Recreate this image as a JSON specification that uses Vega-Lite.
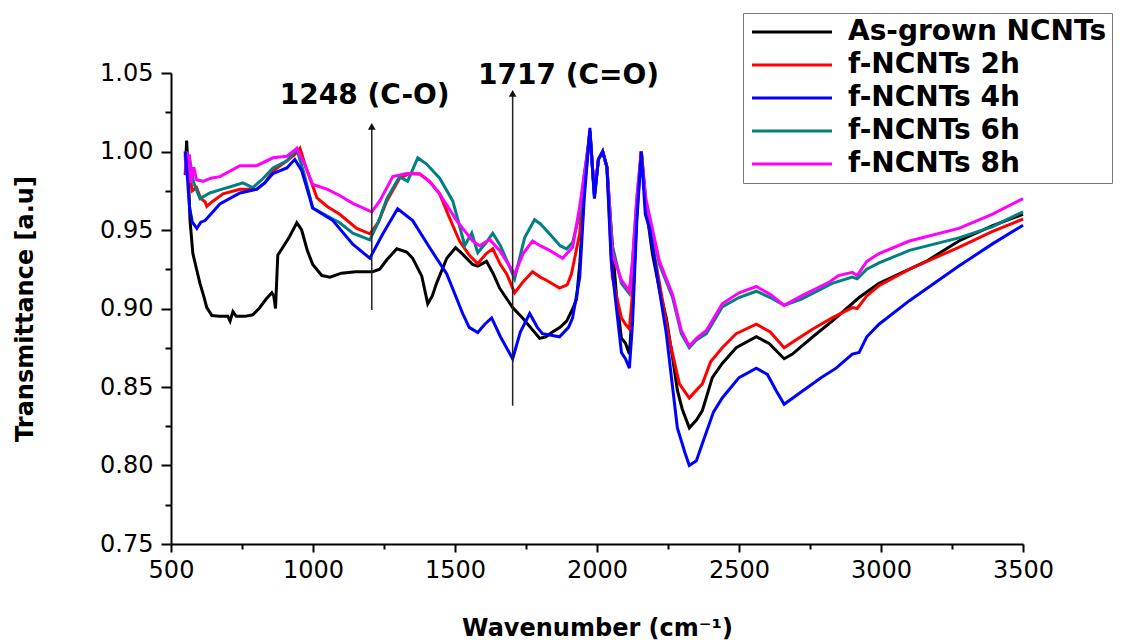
{
  "$schema": "https://vega.github.io/schema/vega-lite/v6.json",
  "width": 852,
  "height": 471,
  "autosize": "none",
  "padding": {"left": 171, "top": 73, "right": 104, "bottom": 96},
  "background": "white",
  "config": {
    "view": {"stroke": null},
    "font": "DejaVu Sans",
    "axis": {"grid": false, "domainColor": "black", "domainWidth": 2, "tickColor": "black", "tickWidth": 2, "labelColor": "black", "titleColor": "black", "labelFont": "DejaVu Sans", "titleFont": "DejaVu Sans", "labelFontSize": 24, "titleFontSize": 24, "titleFontWeight": "bold", "labelOverlap": false, "labelFlush": false}
  },
  "datasets": {
    "asgrown": [
      {"x":550,"y":0.985},{"x":555,"y":1.007},{"x":560,"y":0.99},{"x":567,"y":0.956},{"x":577,"y":0.935},{"x":590,"y":0.925},{"x":602,"y":0.916},{"x":615,"y":0.908},{"x":626,"y":0.9006},{"x":644,"y":0.8955},{"x":670,"y":0.895},{"x":700,"y":0.895},{"x":708,"y":0.892},{"x":718,"y":0.898},{"x":730,"y":0.895},{"x":760,"y":0.895},{"x":788,"y":0.896},{"x":810,"y":0.9},{"x":835,"y":0.906},{"x":855,"y":0.91},{"x":862,"y":0.908},{"x":868,"y":0.9},{"x":876,"y":0.934},{"x":894,"y":0.939},{"x":915,"y":0.945},{"x":943,"y":0.9546},{"x":960,"y":0.95},{"x":980,"y":0.937},{"x":999,"y":0.928},{"x":1031,"y":0.921},{"x":1060,"y":0.92},{"x":1100,"y":0.9225},{"x":1150,"y":0.9234},{"x":1210,"y":0.9234},{"x":1235,"y":0.925},{"x":1260,"y":0.931},{"x":1295,"y":0.938},{"x":1330,"y":0.936},{"x":1351,"y":0.932},{"x":1383,"y":0.9206},{"x":1404,"y":0.903},{"x":1420,"y":0.908},{"x":1435,"y":0.916},{"x":1471,"y":0.932},{"x":1502,"y":0.9387},{"x":1530,"y":0.934},{"x":1562,"y":0.928},{"x":1580,"y":0.927},{"x":1611,"y":0.93},{"x":1635,"y":0.922},{"x":1657,"y":0.913},{"x":1703,"y":0.9006},{"x":1738,"y":0.894},{"x":1770,"y":0.887},{"x":1798,"y":0.881},{"x":1820,"y":0.882},{"x":1843,"y":0.885},{"x":1870,"y":0.888},{"x":1893,"y":0.892},{"x":1915,"y":0.9},{"x":1928,"y":0.906},{"x":1940,"y":0.93},{"x":1955,"y":0.975},{"x":1975,"y":1.013},{"x":1991,"y":0.972},{"x":2005,"y":0.995},{"x":2020,"y":1.0},{"x":2035,"y":0.99},{"x":2050,"y":0.95},{"x":2070,"y":0.905},{"x":2086,"y":0.881},{"x":2100,"y":0.878},{"x":2114,"y":0.871},{"x":2125,"y":0.9},{"x":2140,"y":0.96},{"x":2156,"y":1.0},{"x":2170,"y":0.968},{"x":2195,"y":0.935},{"x":2220,"y":0.912},{"x":2244,"y":0.894},{"x":2265,"y":0.87},{"x":2283,"y":0.848},{"x":2300,"y":0.836},{"x":2325,"y":0.824},{"x":2350,"y":0.829},{"x":2371,"y":0.835},{"x":2406,"y":0.856},{"x":2441,"y":0.865},{"x":2490,"y":0.875},{"x":2561,"y":0.882},{"x":2606,"y":0.8777},{"x":2659,"y":0.868},{"x":2688,"y":0.871},{"x":2760,"y":0.882},{"x":2828,"y":0.892},{"x":2923,"y":0.907},{"x":2993,"y":0.916},{"x":3159,"y":0.93},{"x":3274,"y":0.943},{"x":3391,"y":0.9526},{"x":3500,"y":0.96}
    ],
    "h2": [
      {"x":550,"y":0.998},{"x":556,"y":0.99},{"x":565,"y":0.985},{"x":575,"y":0.975},{"x":590,"y":0.977},{"x":605,"y":0.97},{"x":620,"y":0.968},{"x":626,"y":0.965},{"x":645,"y":0.968},{"x":683,"y":0.973},{"x":743,"y":0.976},{"x":802,"y":0.976},{"x":830,"y":0.98},{"x":859,"y":0.9876},{"x":908,"y":0.994},{"x":935,"y":0.998},{"x":954,"y":1.002},{"x":975,"y":0.99},{"x":1014,"y":0.9705},{"x":1050,"y":0.965},{"x":1094,"y":0.96},{"x":1154,"y":0.951},{"x":1200,"y":0.9476},{"x":1230,"y":0.955},{"x":1260,"y":0.9685},{"x":1305,"y":0.983},{"x":1340,"y":0.986},{"x":1376,"y":0.9857},{"x":1410,"y":0.981},{"x":1446,"y":0.973},{"x":1480,"y":0.958},{"x":1516,"y":0.943},{"x":1550,"y":0.934},{"x":1580,"y":0.9285},{"x":1610,"y":0.935},{"x":1633,"y":0.938},{"x":1660,"y":0.928},{"x":1682,"y":0.922},{"x":1710,"y":0.91},{"x":1740,"y":0.917},{"x":1773,"y":0.9234},{"x":1800,"y":0.92},{"x":1822,"y":0.918},{"x":1868,"y":0.913},{"x":1895,"y":0.915},{"x":1910,"y":0.922},{"x":1939,"y":0.9476},{"x":1955,"y":0.98},{"x":1975,"y":1.013},{"x":1991,"y":0.972},{"x":2005,"y":0.995},{"x":2020,"y":1.0},{"x":2035,"y":0.99},{"x":2054,"y":0.92},{"x":2086,"y":0.894},{"x":2100,"y":0.89},{"x":2114,"y":0.887},{"x":2125,"y":0.91},{"x":2140,"y":0.96},{"x":2156,"y":1.0},{"x":2172,"y":0.965},{"x":2220,"y":0.916},{"x":2255,"y":0.88},{"x":2290,"y":0.852},{"x":2325,"y":0.843},{"x":2350,"y":0.848},{"x":2371,"y":0.852},{"x":2400,"y":0.866},{"x":2441,"y":0.875},{"x":2490,"y":0.884},{"x":2561,"y":0.89},{"x":2610,"y":0.885},{"x":2659,"y":0.875},{"x":2700,"y":0.88},{"x":2760,"y":0.887},{"x":2828,"y":0.894},{"x":2899,"y":0.9006},{"x":2916,"y":0.9},{"x":2950,"y":0.908},{"x":2993,"y":0.9146},{"x":3100,"y":0.925},{"x":3274,"y":0.939},{"x":3391,"y":0.949},{"x":3500,"y":0.957}
    ],
    "h4": [
      {"x":550,"y":1.0},{"x":555,"y":0.99},{"x":565,"y":0.965},{"x":575,"y":0.955},{"x":591,"y":0.951},{"x":605,"y":0.955},{"x":620,"y":0.956},{"x":640,"y":0.96},{"x":672,"y":0.9666},{"x":743,"y":0.9736},{"x":802,"y":0.976},{"x":830,"y":0.98},{"x":859,"y":0.986},{"x":908,"y":0.9895},{"x":936,"y":0.995},{"x":960,"y":0.988},{"x":999,"y":0.964},{"x":1070,"y":0.956},{"x":1140,"y":0.941},{"x":1200,"y":0.932},{"x":1246,"y":0.9476},{"x":1298,"y":0.9635},{"x":1351,"y":0.956},{"x":1411,"y":0.9387},{"x":1471,"y":0.922},{"x":1527,"y":0.8968},{"x":1550,"y":0.888},{"x":1580,"y":0.8847},{"x":1605,"y":0.89},{"x":1629,"y":0.894},{"x":1660,"y":0.882},{"x":1703,"y":0.868},{"x":1730,"y":0.885},{"x":1763,"y":0.8968},{"x":1790,"y":0.888},{"x":1808,"y":0.884},{"x":1868,"y":0.882},{"x":1900,"y":0.888},{"x":1914,"y":0.894},{"x":1939,"y":0.9196},{"x":1955,"y":0.97},{"x":1975,"y":1.015},{"x":1991,"y":0.97},{"x":2005,"y":0.995},{"x":2020,"y":1.0},{"x":2035,"y":0.99},{"x":2050,"y":0.93},{"x":2086,"y":0.872},{"x":2100,"y":0.868},{"x":2114,"y":0.862},{"x":2125,"y":0.89},{"x":2140,"y":0.955},{"x":2156,"y":1.0},{"x":2170,"y":0.96},{"x":2185,"y":0.951},{"x":2244,"y":0.884},{"x":2283,"y":0.824},{"x":2310,"y":0.808},{"x":2325,"y":0.8},{"x":2350,"y":0.803},{"x":2371,"y":0.814},{"x":2410,"y":0.834},{"x":2441,"y":0.843},{"x":2500,"y":0.856},{"x":2561,"y":0.862},{"x":2600,"y":0.858},{"x":2630,"y":0.848},{"x":2659,"y":0.839},{"x":2720,"y":0.847},{"x":2790,"y":0.856},{"x":2842,"y":0.862},{"x":2899,"y":0.871},{"x":2923,"y":0.872},{"x":2950,"y":0.882},{"x":2993,"y":0.89},{"x":3100,"y":0.905},{"x":3274,"y":0.927},{"x":3391,"y":0.941},{"x":3500,"y":0.953}
    ],
    "h6": [
      {"x":550,"y":1.0},{"x":556,"y":0.985},{"x":560,"y":0.998},{"x":567,"y":0.994},{"x":580,"y":0.98},{"x":602,"y":0.97},{"x":637,"y":0.9736},{"x":680,"y":0.976},{"x":718,"y":0.978},{"x":753,"y":0.98},{"x":788,"y":0.977},{"x":820,"y":0.982},{"x":859,"y":0.9895},{"x":908,"y":0.994},{"x":943,"y":1.0016},{"x":970,"y":0.985},{"x":999,"y":0.964},{"x":1049,"y":0.959},{"x":1094,"y":0.9546},{"x":1140,"y":0.948},{"x":1200,"y":0.9437},{"x":1230,"y":0.955},{"x":1260,"y":0.97},{"x":1305,"y":0.984},{"x":1333,"y":0.981},{"x":1369,"y":0.996},{"x":1400,"y":0.992},{"x":1446,"y":0.983},{"x":1492,"y":0.9685},{"x":1520,"y":0.95},{"x":1534,"y":0.94},{"x":1559,"y":0.948},{"x":1580,"y":0.9355},{"x":1610,"y":0.942},{"x":1633,"y":0.948},{"x":1660,"y":0.94},{"x":1710,"y":0.919},{"x":1745,"y":0.945},{"x":1780,"y":0.9565},{"x":1800,"y":0.954},{"x":1833,"y":0.9476},{"x":1870,"y":0.94},{"x":1893,"y":0.938},{"x":1914,"y":0.942},{"x":1939,"y":0.96},{"x":1955,"y":0.985},{"x":1975,"y":1.012},{"x":1991,"y":0.972},{"x":2005,"y":0.995},{"x":2020,"y":1.0},{"x":2035,"y":0.99},{"x":2054,"y":0.94},{"x":2086,"y":0.916},{"x":2114,"y":0.9095},{"x":2125,"y":0.93},{"x":2140,"y":0.97},{"x":2156,"y":1.0},{"x":2172,"y":0.968},{"x":2220,"y":0.928},{"x":2266,"y":0.907},{"x":2297,"y":0.884},{"x":2325,"y":0.875},{"x":2350,"y":0.88},{"x":2385,"y":0.884},{"x":2441,"y":0.901},{"x":2500,"y":0.907},{"x":2561,"y":0.911},{"x":2610,"y":0.907},{"x":2659,"y":0.902},{"x":2720,"y":0.906},{"x":2828,"y":0.916},{"x":2899,"y":0.92},{"x":2916,"y":0.919},{"x":2950,"y":0.925},{"x":2993,"y":0.929},{"x":3100,"y":0.937},{"x":3274,"y":0.945},{"x":3391,"y":0.952},{"x":3500,"y":0.9616}
    ],
    "h8": [
      {"x":550,"y":0.998},{"x":553,"y":0.985},{"x":556,"y":1.0},{"x":560,"y":0.983},{"x":565,"y":0.998},{"x":570,"y":0.98},{"x":580,"y":0.99},{"x":590,"y":0.982},{"x":613,"y":0.981},{"x":640,"y":0.983},{"x":672,"y":0.984},{"x":743,"y":0.991},{"x":802,"y":0.991},{"x":859,"y":0.996},{"x":908,"y":0.997},{"x":943,"y":1.002},{"x":970,"y":0.992},{"x":999,"y":0.979},{"x":1049,"y":0.976},{"x":1094,"y":0.972},{"x":1140,"y":0.967},{"x":1207,"y":0.9616},{"x":1235,"y":0.9685},{"x":1281,"y":0.984},{"x":1330,"y":0.986},{"x":1376,"y":0.9857},{"x":1410,"y":0.981},{"x":1446,"y":0.973},{"x":1506,"y":0.956},{"x":1562,"y":0.943},{"x":1587,"y":0.94},{"x":1622,"y":0.944},{"x":1657,"y":0.937},{"x":1710,"y":0.922},{"x":1740,"y":0.935},{"x":1773,"y":0.943},{"x":1800,"y":0.94},{"x":1833,"y":0.937},{"x":1879,"y":0.932},{"x":1914,"y":0.939},{"x":1939,"y":0.965},{"x":1955,"y":0.985},{"x":1975,"y":1.01},{"x":1991,"y":0.974},{"x":2005,"y":0.995},{"x":2020,"y":1.0},{"x":2035,"y":0.99},{"x":2054,"y":0.935},{"x":2086,"y":0.918},{"x":2114,"y":0.911},{"x":2125,"y":0.93},{"x":2140,"y":0.97},{"x":2156,"y":1.0},{"x":2172,"y":0.97},{"x":2220,"y":0.93},{"x":2266,"y":0.909},{"x":2297,"y":0.886},{"x":2325,"y":0.876},{"x":2350,"y":0.881},{"x":2385,"y":0.886},{"x":2441,"y":0.903},{"x":2500,"y":0.91},{"x":2561,"y":0.914},{"x":2610,"y":0.909},{"x":2659,"y":0.902},{"x":2720,"y":0.908},{"x":2820,"y":0.917},{"x":2850,"y":0.921},{"x":2899,"y":0.923},{"x":2916,"y":0.921},{"x":2950,"y":0.93},{"x":2993,"y":0.935},{"x":3100,"y":0.943},{"x":3274,"y":0.951},{"x":3391,"y":0.96},{"x":3500,"y":0.97}
    ],
    "labels": [
      {"x":1182,"y":1.030,"label":"1248 (C-O)"},
      {"x":1900,"y":1.0428,"label":"1717 (C=O)"}
    ],
    "arrows": [
      {"x":1207,"y":0.899,"y2":1.016},
      {"x":1703,"y":0.838,"y2":1.037}
    ]
  },
  "encoding": {
    "x": {"field": "x", "type": "quantitative", "scale": {"domain": [500, 3500], "nice": false, "zero": false},
      "axis": {"title": "Wavenumber (cm⁻¹)", "values": [500,750,1000,1250,1500,1750,2000,2250,2500,2750,3000,3250,3500], "format": "d",
        "labelExpr": "datum.value % 500 === 0 ? datum.label : ''",
        "tickSize": {"condition": {"test": "datum.value % 500 === 0", "value": 8}, "value": 5},
        "labelPadding": 6, "titlePadding": 34}},
    "y": {"field": "y", "type": "quantitative", "scale": {"domain": [0.75, 1.05], "nice": false, "zero": false},
      "axis": {"title": "Transmittance [a.u]", "values": [0.75,0.775,0.8,0.825,0.85,0.875,0.9,0.925,0.95,0.975,1.0,1.025,1.05],
        "labelExpr": "abs(datum.value*20 - round(datum.value*20)) < 0.001 ? format(datum.value, '.2f') : ''",
        "tickSize": {"condition": {"test": "abs(datum.value*20 - round(datum.value*20)) < 0.001", "value": 10}, "value": 6},
        "labelPadding": 8, "titlePadding": 62}}
  },
  "layer": [
    {"data": {"name": "asgrown"}, "mark": {"type": "line", "strokeWidth": 3}, "encoding": {"color": {"datum": "As-grown NCNTs"}}},
    {"data": {"name": "h2"}, "mark": {"type": "line", "strokeWidth": 3}, "encoding": {"color": {"datum": "f-NCNTs 2h"}}},
    {"data": {"name": "h6"}, "mark": {"type": "line", "strokeWidth": 3}, "encoding": {"color": {"datum": "f-NCNTs 6h"}}},
    {"data": {"name": "h8"}, "mark": {"type": "line", "strokeWidth": 3}, "encoding": {"color": {"datum": "f-NCNTs 8h"}}},
    {"data": {"name": "h4"}, "mark": {"type": "line", "strokeWidth": 3},
      "encoding": {"color": {"datum": "f-NCNTs 4h", "type": "nominal",
        "scale": {"domain": ["As-grown NCNTs","f-NCNTs 2h","f-NCNTs 4h","f-NCNTs 6h","f-NCNTs 8h"], "range": ["#000000","#ff0000","#0000ff","#008080","#ff00ff"]},
        "legend": {"title": null, "orient": "none", "legendX": 572, "legendY": -60, "symbolType": "M-1,0H7", "symbolSize": 400, "symbolStrokeWidth": 3,
          "labelFont": "DejaVu Sans", "labelFontWeight": "bold", "labelFontSize": 28, "labelColor": "black", "labelOffset": 72, "labelLimit": 500,
          "rowPadding": 5, "padding": 5, "strokeColor": "#777777", "fillColor": "white"}}}},
    {"data": {"name": "arrows"}, "mark": {"type": "rule", "color": "#222222", "strokeWidth": 1.5},
      "encoding": {"y2": {"field": "y2"}}},
    {"data": {"name": "arrows"}, "mark": {"type": "point", "shape": "triangle-up", "filled": true, "color": "#111111", "size": 60, "opacity": 1},
      "encoding": {"y": {"field": "y2", "type": "quantitative"}}},
    {"data": {"name": "labels"}, "mark": {"type": "text", "font": "DejaVu Sans", "fontWeight": "bold", "fontSize": 28, "color": "black", "align": "center", "baseline": "alphabetic"},
      "encoding": {"text": {"field": "label"}}}
  ]
}
